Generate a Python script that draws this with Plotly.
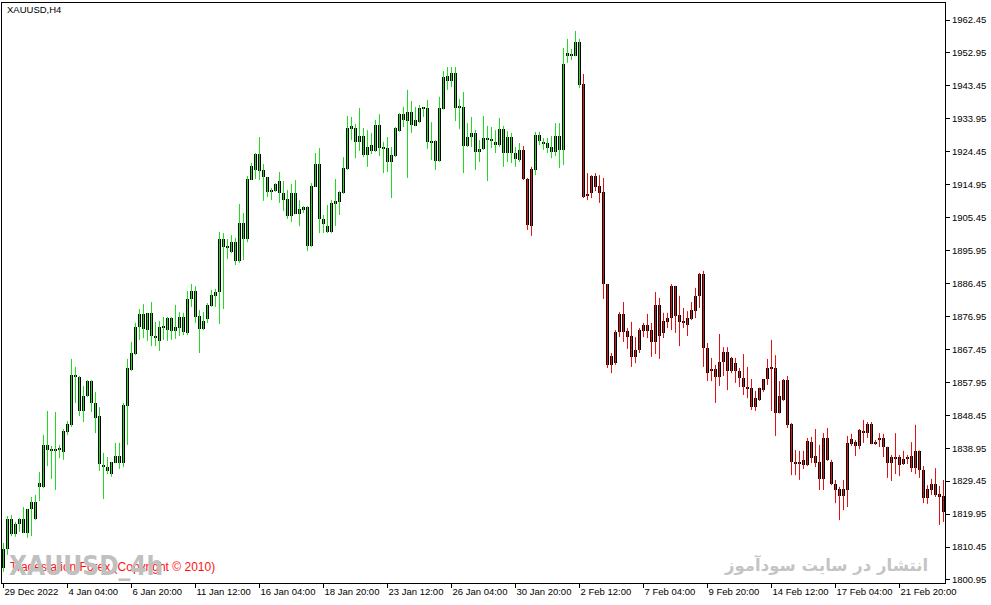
import plotly.graph_objects as go

# ---------------- data (XAUUSD, H4) ----------------
open_ = [1804.4,1809.9,1818.5,1814.2,1817.1,1818.5,1814.5,1821.4,1823.4,1827.8,
         1827.8,1839.9,1838.4,1838.2,1838.7,1837.9,1843.6,1845.7,1860.1,1859.5,
         1849.7,1854.0,1858.3,1852.0,1848.2,1834.1,1833.5,1831.5,1834.7,1836.7,
         1834.7,1851.1,1861.5,1866.1,1873.9,1877.7,1873.0,1878.0,1871.3,1869.9,
         1873.6,1873.0,1876.5,1872.8,1873.6,1876.8,1872.2,1882.0,1884.3,1877.1,
         1873.3,1876.2,1880.0,1882.9,1884.0,1899.3,1897.0,1895.5,1898.4,1893.0,
         1903.9,1899.3,1916.3,1919.2,1923.8,1919.2,1917.2,1912.9,1913.1,1916.0,
         1912.6,1910.8,1905.9,1912.6,1906.5,1907.7,1908.5,1897.3,1914.3,1920.9,
         1905.1,1903.0,1901.3,1909.4,1910.0,1912.6,1919.5,1931.0,1931.3,1927.3,
         1929.0,1923.5,1926.4,1924.7,1932.2,1925.3,1925.5,1921.5,1923.2,1930.4,
         1935.3,1933.3,1935.9,1931.9,1933.0,1937.1,1937.1,1927.0,1927.6,1921.8,
         1936.8,1946.3,1944.9,1947.2,1937.1,1937.4,1926.1,1928.7,1929.9,1924.4,
         1925.3,1928.4,1927.8,1927.3,1926.4,1931.0,1924.1,1928.7,1924.1,1922.1,
         1925.0,1916.6,1903.0,1919.2,1929.3,1927.3,1927.0,1925.8,1924.4,1929.0,
         1925.0,1952.1,1952.4,1952.1,1956.1,1944.0,1911.7,1912.6,1917.5,1914.6,
         1912.9,1886.3,1863.0,1863.5,1872.5,1877.7,1872.8,1871.3,1865.3,1867.3,
         1872.8,1874.5,1873.0,1869.6,1880.3,1872.2,1875.4,1876.5,1885.7,1877.4,
         1875.4,1874.5,1876.2,1878.5,1882.9,1889.2,1867.9,1861.5,1861.8,1859.5,
         1863.8,1866.7,1861.2,1863.5,1861.2,1859.2,1856.6,1856.3,1850.8,1852.9,
         1855.7,1858.8,1862.1,1862.1,1849.1,1852.9,1858.6,1845.9,1835.0,1834.4,
         1834.1,1834.1,1840.7,1836.7,1835.0,1830.1,1841.9,1835.0,1828.6,1827.2,
         1825.2,1826.9,1840.2,1840.7,1839.6,1843.9,1843.3,1845.9,1840.2,1841.6,
         1841.9,1839.3,1834.7,1836.4,1836.4,1834.4,1835.8,1836.7,1833.2,1838.2,
         1832.7,1824.6,1826.9,1828.6,1825.7,1825.2]
high = [1811.6,1819.4,1819.7,1817.7,1818.8,1822.0,1821.4,1824.9,1825.5,1832.1,
        1842.8,1849.7,1839.6,1849.4,1839.9,1844.5,1846.8,1864.7,1862.4,1859.8,
        1856.9,1858.6,1858.6,1855.2,1850.8,1837.6,1836.4,1835.0,1840.5,1840.5,
        1852.0,1864.7,1869.6,1875.1,1879.1,1880.5,1878.0,1881.1,1875.4,1875.6,
        1876.8,1876.8,1876.8,1880.3,1878.2,1878.0,1884.3,1886.3,1885.7,1878.8,
        1878.2,1880.8,1884.6,1884.9,1901.3,1901.0,1899.3,1900.4,1899.6,1909.4,
        1906.8,1917.5,1921.2,1924.1,1928.7,1920.9,1917.2,1914.0,1915.4,1918.6,
        1916.0,1913.4,1915.2,1916.3,1910.5,1908.8,1908.8,1915.4,1924.1,1925.5,
        1906.2,1909.1,1910.5,1916.6,1913.1,1922.9,1934.8,1934.5,1932.5,1937.1,
        1931.3,1930.7,1929.9,1933.6,1935.3,1927.3,1928.7,1925.8,1931.6,1935.6,
        1937.4,1942.3,1939.1,1937.4,1937.9,1937.4,1939.4,1933.0,1927.8,1940.3,
        1947.7,1948.9,1948.9,1948.9,1939.7,1941.7,1932.7,1934.5,1930.7,1927.8,
        1934.8,1931.9,1931.6,1930.7,1934.2,1931.9,1930.4,1929.9,1925.8,1927.0,
        1926.1,1916.9,1920.1,1930.2,1930.2,1928.4,1928.4,1929.0,1932.7,1932.7,
        1954.4,1957.0,1954.1,1959.3,1957.0,1946.9,1918.3,1917.7,1918.3,1917.7,
        1916.9,1886.3,1866.4,1873.0,1878.2,1881.1,1873.6,1875.4,1871.0,1873.6,
        1875.1,1877.7,1875.1,1884.0,1882.3,1878.0,1878.0,1886.3,1885.8,1882.9,
        1879.4,1878.5,1881.1,1885.2,1889.5,1890.1,1869.3,1865.0,1863.0,1871.9,
        1868.1,1868.1,1865.3,1865.0,1862.1,1866.1,1862.4,1858.9,1855.5,1856.4,
        1858.9,1864.7,1870.2,1865.8,1858.3,1858.9,1859.8,1846.2,1838.4,1838.2,
        1838.2,1841.9,1842.2,1844.5,1839.9,1843.3,1844.8,1835.6,1829.8,1827.8,
        1829.8,1842.5,1843.1,1841.3,1844.5,1847.1,1846.5,1846.5,1841.3,1843.3,
        1843.1,1839.4,1837.0,1843.3,1837.0,1838.2,1837.0,1840.7,1845.7,1838.3,
        1833.8,1828.3,1830.1,1833.2,1828.1,1829.8]
low = [1803.3,1808.2,1813.6,1813.4,1814.8,1814.5,1813.1,1813.6,1818.2,1823.7,
       1827.5,1833.8,1830.1,1826.9,1836.1,1835.6,1842.8,1845.1,1852.0,1848.2,
       1846.5,1853.7,1849.4,1843.3,1832.4,1824.3,1831.5,1830.7,1834.7,1833.0,
       1833.5,1839.9,1861.2,1865.8,1870.2,1870.7,1869.9,1868.4,1868.4,1867.0,
       1870.2,1869.9,1870.2,1870.5,1871.3,1871.6,1871.6,1879.7,1875.1,1866.4,
       1873.0,1875.1,1879.7,1879.7,1874.8,1879.1,1893.5,1895.2,1891.8,1892.4,
       1893.2,1898.4,1916.3,1916.6,1916.3,1910.3,1911.4,1910.5,1912.9,1909.7,
       1907.4,1905.1,1904.2,1906.5,1903.0,1906.8,1895.8,1897.0,1914.3,1901.0,
       1901.0,1901.0,1901.0,1903.0,1906.2,1912.3,1919.2,1927.8,1922.6,1924.7,
       1922.9,1920.1,1923.8,1924.4,1923.2,1918.3,1918.6,1911.1,1922.9,1930.2,
       1931.6,1916.9,1929.9,1931.9,1932.7,1934.5,1925.3,1922.1,1919.2,1921.5,
       1936.6,1942.3,1943.1,1933.3,1931.0,1918.3,1925.8,1925.8,1919.2,1921.5,
       1925.0,1916.0,1925.5,1924.1,1925.8,1920.1,1921.5,1921.2,1920.1,1921.5,
       1916.3,1901.9,1900.2,1917.7,1926.4,1925.0,1924.1,1922.6,1923.2,1919.8,
       1920.6,1950.1,1950.9,1952.0,1942.8,1911.1,1910.5,1911.1,1913.1,1909.7,
       1882.0,1862.1,1860.6,1863.0,1871.0,1869.6,1867.6,1862.4,1863.5,1866.4,
       1871.0,1870.7,1865.3,1866.1,1864.7,1870.7,1873.6,1873.0,1872.2,1868.4,
       1873.6,1871.3,1875.9,1876.5,1879.4,1862.4,1858.3,1858.3,1852.0,1856.9,
       1859.8,1855.7,1860.6,1857.8,1856.6,1854.3,1853.4,1850.0,1849.7,1852.6,
       1855.2,1857.2,1849.7,1842.5,1849.0,1852.6,1844.8,1831.2,1831.2,1829.8,
       1833.0,1833.8,1834.7,1833.5,1826.9,1826.9,1835.3,1828.3,1823.1,1818.2,
       1821.1,1822.0,1839.6,1836.7,1838.7,1840.5,1841.9,1840.1,1839.9,1839.3,
       1836.4,1830.4,1829.5,1831.5,1830.9,1834.1,1834.4,1832.1,1831.5,1830.4,
       1823.1,1822.9,1825.5,1824.9,1816.8,1817.7]
close = [1809.9,1818.5,1814.2,1817.1,1818.5,1814.5,1821.4,1823.4,1818.5,1828.9,
         1839.9,1838.4,1838.2,1838.7,1839.0,1843.9,1845.9,1860.1,1859.5,1849.7,
         1854.0,1858.3,1852.0,1847.7,1834.4,1833.5,1832.4,1835.0,1836.7,1834.7,
         1851.4,1862.1,1866.4,1873.9,1877.7,1873.3,1878.0,1871.3,1871.0,1873.9,
         1874.2,1876.5,1872.8,1873.9,1876.8,1872.5,1882.0,1884.3,1876.8,1873.3,
         1875.6,1880.3,1883.1,1884.0,1899.3,1897.0,1896.7,1898.4,1893.0,1903.9,
         1899.3,1916.6,1920.3,1923.8,1918.9,1917.2,1912.9,1913.4,1915.2,1912.6,
         1910.5,1905.9,1912.6,1906.5,1907.9,1908.5,1897.3,1914.6,1920.9,1905.1,
         1903.6,1901.3,1909.7,1910.3,1912.9,1919.8,1931.3,1931.9,1927.3,1929.0,
         1923.5,1925.8,1924.7,1932.2,1925.5,1925.8,1921.5,1923.5,1931.3,1935.3,
         1933.6,1935.9,1932.2,1933.6,1937.1,1936.8,1927.3,1927.6,1921.8,1937.1,
         1946.0,1944.9,1947.2,1937.1,1937.6,1926.1,1928.7,1929.9,1924.4,1925.3,
         1928.4,1927.8,1928.1,1926.4,1931.0,1924.1,1928.7,1924.1,1922.4,1925.0,
         1916.6,1903.3,1919.5,1929.3,1927.6,1926.7,1925.5,1924.4,1929.0,1925.0,
         1949.8,1952.9,1952.1,1956.1,1943.7,1911.4,1912.3,1917.5,1914.3,1912.6,
         1886.3,1863.0,1865.6,1872.5,1877.7,1872.5,1871.0,1865.3,1867.3,1873.0,
         1874.5,1872.8,1869.6,1880.3,1871.3,1875.6,1876.5,1885.7,1877.1,1875.4,
         1875.1,1876.5,1878.8,1882.9,1889.2,1867.9,1860.6,1861.8,1859.5,1863.8,
         1866.7,1861.2,1865.0,1861.2,1859.2,1856.6,1856.3,1850.8,1853.4,1856.3,
         1858.8,1862.1,1861.8,1849.1,1854.0,1858.6,1845.7,1835.0,1834.4,1834.7,
         1835.6,1841.0,1836.1,1834.7,1830.1,1841.9,1835.6,1828.6,1826.9,1825.2,
         1827.2,1840.5,1841.6,1839.6,1844.2,1843.3,1845.9,1840.2,1840.7,1841.9,
         1839.3,1834.7,1836.4,1836.1,1834.1,1835.8,1836.4,1833.2,1838.2,1832.7,
         1824.6,1827.2,1828.6,1825.5,1824.9,1820.6]

# bars whose wick is drawn in red (all others green)
red_bar_ranges = [(130, 132), (145, 235)]

tick_bar_index = [0, 16, 32, 48, 64, 80, 96, 112, 128, 144, 160, 176, 192, 208, 224]
tick_labels = ["29 Dec 2022", "4 Jan 04:00", "6 Jan 20:00", "11 Jan 12:00", "16 Jan 04:00",
               "18 Jan 20:00", "23 Jan 12:00", "26 Jan 04:00", "30 Jan 20:00", "2 Feb 12:00",
               "7 Feb 04:00", "9 Feb 20:00", "14 Feb 12:00", "17 Feb 04:00", "21 Feb 20:00"]

price_ticks = [1800.95 + 9.5 * k for k in range(18)]

# ---------------- figure ----------------
n = len(close)
x = list(range(n))

is_red = [any(a <= i <= b for a, b in red_bar_ranges) for i in x]

min_body = 0.3
body_base, body_h = [], []
for o, c in zip(open_, close):
    lo, hi = min(o, c), max(o, c)
    if hi - lo < min_body:
        mid = (hi + lo) / 2
        lo, hi = mid - min_body / 2, mid + min_body / 2
    body_base.append(lo)
    body_h.append(hi - lo)

fig = go.Figure()
fig.add_trace(go.Bar(x=x, y=body_h, base=body_base, width=0.75,
                     marker=dict(color="black", line=dict(width=0)),
                     hoverinfo="skip"))

for flag, col in [(False, "#1fdc1f"), (True, "#e01212")]:
    wx, wy = [], []
    for i in x:
        if is_red[i] == flag:
            wx += [i, i, None]
            wy += [low[i], high[i], None]
    fig.add_trace(go.Scatter(x=wx, y=wy, mode="lines",
                             line=dict(color=col, width=1),
                             hoverinfo="skip"))

W, H = 991, 605
ml, mr, mt, mb = 2, 46, 3, 22
pw, ph = W - ml - mr, H - mt - mb
px_per_bar = 4
x0 = -1.5 / px_per_bar
x1 = x0 + pw / px_per_bar

tick_font = dict(family="Liberation Sans, Arial, sans-serif", size=9.5, color="black")

fig.update_layout(
    width=W, height=H,
    margin=dict(l=ml, r=mr, t=mt, b=mb, autoexpand=False),
    plot_bgcolor="white", paper_bgcolor="white",
    showlegend=False, bargap=0,
    xaxis=dict(range=[x0, x1], tickvals=tick_bar_index, ticktext=tick_labels,
               ticks="outside", ticklen=4, tickcolor="black", tickwidth=1,
               showline=True, linecolor="black", linewidth=1, mirror=True,
               showgrid=False, zeroline=False, ticklabelposition="outside right",
               tickangle=0, automargin=False, tickfont=tick_font),
    yaxis=dict(side="right", range=[1800.08, 1967.36], tickvals=price_ticks,
               ticktext=[f"{v:.2f}" for v in price_ticks],
               ticks="outside", ticklen=4, tickcolor="black", tickwidth=1,
               showline=True, linecolor="black", linewidth=1, mirror=True,
               showgrid=False, zeroline=False, automargin=False, tickfont=tick_font),
)

def px_x(p):
    return (p - ml) / pw

def px_y(p):
    return (H - mb - p) / ph

fig.add_annotation(text="XAUUSD,H4", xref="paper", yref="paper",
                   x=px_x(5), y=px_y(10), xanchor="left", yanchor="middle",
                   showarrow=False, font=dict(family="Liberation Sans, Arial", size=9.5, color="black"))

fig.add_annotation(text="Tradestation Forex (Copyright © 2010)", xref="paper", yref="paper",
                   x=px_x(8), y=px_y(567), xanchor="left", yanchor="middle",
                   showarrow=False, font=dict(family="Liberation Sans, Arial", size=12, color="#ff1010"))

fig.add_annotation(text="<b>XAUUSD_4h</b>", xref="paper", yref="paper",
                   x=px_x(7), y=px_y(566), xanchor="left", yanchor="middle",
                   showarrow=False,
                   font=dict(family="DejaVu Sans Condensed, DejaVu Sans", size=26, color="#c0c0c0"))

fig.add_annotation(text="<b>انتشار در سایت سودآموز</b>", xref="paper", yref="paper",
                   x=px_x(930), y=px_y(565), xanchor="right", yanchor="middle",
                   showarrow=False,
                   font=dict(family="DejaVu Sans, Noto Sans", size=16.5, color="#c4c4c4"))

fig.write_html("out.html", config={"displayModeBar": False},
               post_script="document.body.style.margin='0px';document.body.style.padding='0px';")
